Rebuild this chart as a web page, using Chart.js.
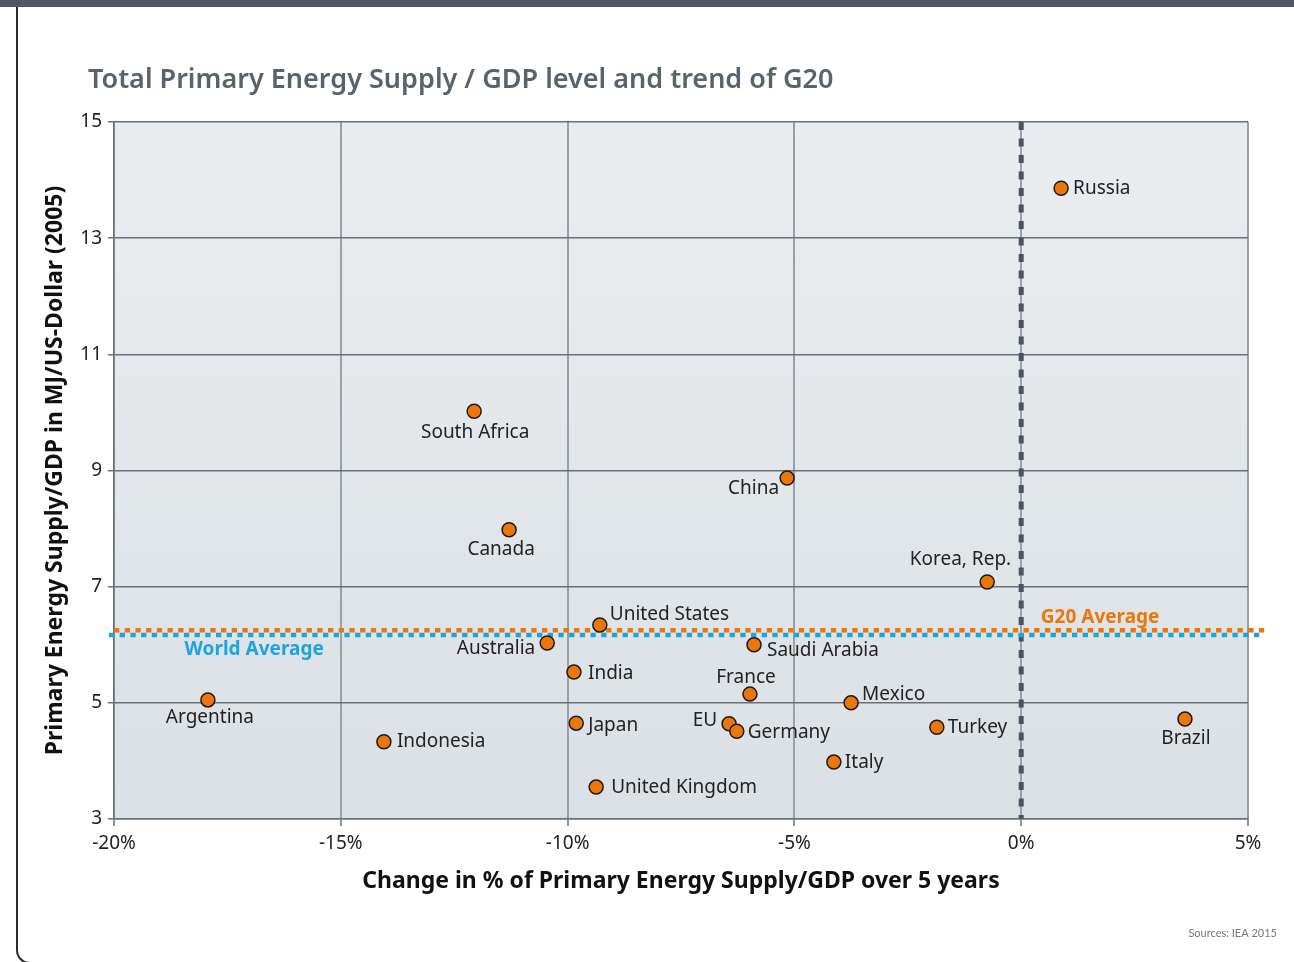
<!DOCTYPE html>
<html>
<head>
<meta charset="utf-8">
<script src="https://cdn.jsdelivr.net/npm/chart.js"></script>
<style>
  html, body { margin: 0; padding: 0; background: #fff; }
  body { width: 1294px; height: 962px; position: relative; overflow: hidden; }
  .topbar { position: absolute; left: 0; top: 0; width: 1294px; height: 7px; background: #4f5665; }
  .card { position: absolute; left: 16px; top: 7px; width: 1320px; height: 957px; box-sizing: border-box;
          border-left: 2px solid #2b2b2b; border-bottom: 2px solid #2b2b2b; border-bottom-left-radius: 14px; }
  #myChart { position: absolute; left: 0; top: 0; }
</style>
</head>
<body>
<div class="topbar"></div>
<div class="card"></div>
<canvas id="myChart" width="1294" height="962"></canvas>
<script>
let countries = ["Russia", "South Africa", "China", "Canada", "Korea, Rep.", "United States", "Australia",
  "Saudi Arabia", "India", "France", "Mexico", "Argentina", "Japan", "EU", "Germany", "Turkey",
  "Brazil", "Indonesia", "Italy", "United Kingdom"];
// change in % over 5 years
let changePct = [0.88, -12.06, -5.16, -11.29, -0.75, -9.29, -10.45,
  -5.89, -9.86, -5.98, -3.75, -17.93, -9.81, -6.44, -6.27, -1.86,
  3.61, -14.05, -4.13, -9.37];
// TPES/GDP in MJ/US-Dollar (2005)
let tpesGdp = [13.86, 10.02, 8.87, 7.98, 7.08, 6.34, 6.03,
  6.00, 5.53, 5.15, 5.00, 5.05, 4.65, 4.64, 4.51, 4.58,
  4.72, 4.33, 3.98, 3.55];
let xTicks = [-20, -15, -10, -5, 0, 5];
let yTicks = [3, 5, 7, 9, 11, 13, 15];
let averageNames = ["G20 Average", "World Average"];
let averageValues = [6.25, 6.17];

// label placement next to each point: [dx, dy, align]
let labelOffsets = [
  [12, 0, "left"], [1, 21, "center"], [-8, 11, "right"], [-8, 20, "center"], [24, -22, "right"],
  [10, -10, "left"], [-12, 6, "right"], [13, 6, "left"], [14, 2, "left"], [-4, -17, "center"],
  [11, -8, "left"], [2, 18, "center"], [12, 2, "left"], [-12, -3, "right"], [11, 1, "left"],
  [11, 0, "left"], [1, 19, "center"], [13, 0, "left"], [11, 1, "left"], [15, 1, "left"]
];

const FONT = "'Noto Sans', 'Open Sans', sans-serif";
const ORANGE = "#ec7608";
const BLUE = "#1ea3dd";

const backdrop = {
  id: "backdrop",
  beforeDraw(chart) {
    const {ctx, chartArea: a} = chart;
    const g = ctx.createLinearGradient(0, a.top, 0, a.bottom);
    g.addColorStop(0, "#e9edf0");
    g.addColorStop(1, "#dbe0e4");
    ctx.save();
    ctx.fillStyle = g;
    ctx.fillRect(a.left, a.top, a.right - a.left, a.bottom - a.top);
    ctx.restore();
  }
};

const refLines = {
  id: "refLines",
  beforeDatasetsDraw(chart) {
    const {ctx, chartArea: a, scales: {x, y}} = chart;
    ctx.save();
    // 0% dashed line
    const x0 = x.getPixelForValue(0);
    ctx.strokeStyle = "#4b5261";
    ctx.lineWidth = 5;
    ctx.setLineDash([8, 8.5]);
    ctx.beginPath();
    ctx.moveTo(x0, a.top);
    ctx.lineTo(x0, a.bottom);
    ctx.stroke();

    // averages (dotted, interleaved)
    ctx.lineWidth = 4.5;
    ctx.setLineDash([5.3, 5.4]);
    const yb = y.getPixelForValue(averageValues[1]);
    ctx.strokeStyle = BLUE;
    ctx.beginPath();
    ctx.moveTo(a.left - 5, yb);
    ctx.lineTo(a.right + 14, yb);
    ctx.stroke();
    const yo = y.getPixelForValue(averageValues[0]);
    ctx.strokeStyle = ORANGE;
    ctx.beginPath();
    ctx.moveTo(a.left, yo);
    ctx.lineTo(a.right + 20, yo);
    ctx.stroke();
    ctx.setLineDash([]);

    ctx.font = "bold 19px " + FONT;
    ctx.textAlign = "center";
    ctx.textBaseline = "middle";
    ctx.fillStyle = ORANGE;
    ctx.fillText(averageNames[0], x.getPixelForValue(1.74), yo - 13);
    ctx.fillStyle = BLUE;
    ctx.fillText(averageNames[1], x.getPixelForValue(-16.91), yb + 15);
    ctx.restore();
  }
};

const pointLabels = {
  id: "pointLabels",
  afterDatasetsDraw(chart) {
    const {ctx} = chart;
    const meta = chart.getDatasetMeta(0);
    ctx.save();
    ctx.font = "19px " + FONT;
    ctx.fillStyle = "#222";
    ctx.textBaseline = "middle";
    meta.data.forEach((pt, i) => {
      const [dx, dy, align] = labelOffsets[i];
      ctx.textAlign = align;
      ctx.fillText(countries[i], pt.x + dx, pt.y + dy);
    });
    ctx.restore();
  }
};

const headings = {
  id: "headings",
  afterDraw(chart) {
    const {ctx} = chart;
    ctx.save();
    ctx.font = "600 27px " + FONT;
    ctx.fillStyle = "#5a6271";
    ctx.textAlign = "left";
    ctx.textBaseline = "alphabetic";
    ctx.fillText("Total Primary Energy Supply / GDP level and trend of G20", 88, 88);
    ctx.font = "11px Lato, sans-serif";
    ctx.fillStyle = "#777";
    ctx.textAlign = "right";
    ctx.fillText("Sources: IEA 2015", 1277, 937);
    ctx.restore();
  }
};

new Chart("myChart", {
  type: "scatter",
  data: {
    datasets: [{
      data: countries.map((c, i) => ({x: changePct[i], y: tpesGdp[i]})),
      backgroundColor: ORANGE,
      borderColor: "#1a1a1a",
      borderWidth: 1.5,
      pointRadius: 7,
      pointHoverRadius: 7
    }]
  },
  options: {
    responsive: false,
    animation: false,
    devicePixelRatio: 1,
    layout: {padding: {top: 122, right: 46, left: 0, bottom: 0}},
    plugins: {
      legend: {display: false},
      tooltip: {enabled: false}
    },
    scales: {
      x: {
        type: "linear",
        min: -20,
        max: 5,
        afterBuildTicks: s => { s.ticks = xTicks.map(v => ({value: v})); },
        afterFit: s => { s.height = 143; },
        ticks: {
          callback: v => v + "%",
          font: {family: FONT, size: 19},
          color: "#222",
          padding: 6
        },
        grid: {
          color: "#9aa0a8",
          lineWidth: 2,
          tickColor: "#6a707b",
          tickWidth: 1.5,
          tickLength: 7
        },
        border: {display: true, color: "#6a707b", width: 1.5},
        title: {
          display: true,
          text: "Change in % of Primary Energy Supply/GDP over 5 years",
          font: {family: FONT, size: 23, weight: "bold"},
          color: "#111",
          padding: {top: 0, bottom: 67}
        }
      },
      y: {
        min: 3,
        max: 15,
        afterBuildTicks: s => { s.ticks = yTicks.map(v => ({value: v})); },
        afterFit: s => { s.width = 114; },
        ticks: {
          font: {family: FONT, size: 19},
          color: "#222",
          padding: 6
        },
        grid: {
          color: "#6a707b",
          lineWidth: 1.5,
          tickColor: "#6a707b",
          tickWidth: 1.5,
          tickLength: 6
        },
        border: {display: true, color: "#6a707b", width: 1.5},
        title: {
          display: true,
          text: "Primary Energy Supply/GDP in MJ/US-Dollar (2005)",
          font: {family: FONT, size: 23, weight: "bold"},
          color: "#111",
          padding: {top: 42, bottom: 0}
        }
      }
    }
  },
  plugins: [backdrop, refLines, pointLabels, headings]
});
</script>
</body>
</html>
